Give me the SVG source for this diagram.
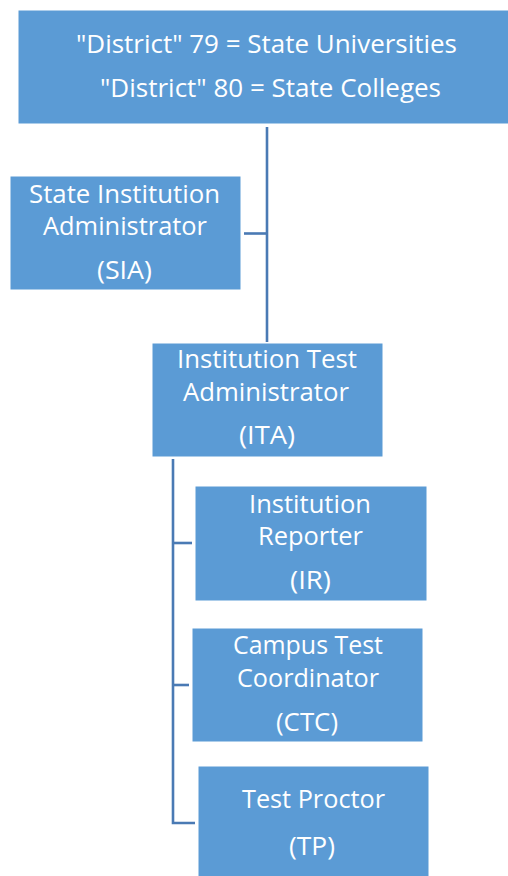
<svg xmlns="http://www.w3.org/2000/svg" width="508" height="876" viewBox="0 0 508 876">
<style>
.box{fill:#5B9BD5;stroke:#ffffff;stroke-width:1}
.t{font-family:"Open Sans","Liberation Sans",sans-serif;font-size:25px;fill:#ffffff}
.c{fill:none;stroke:#4A7AB4;stroke-width:2.6}
</style>
<rect width="508" height="876" fill="#ffffff"/>
<g id="connectors">
<path class="c" d="M267,127 V342"/>
<path class="c" d="M244,233.5 H267"/>
<path class="c" d="M173,459 V823 H195"/>
<path class="c" d="M173,543 H192"/>
<path class="c" d="M173,685 H189"/>
</g>
<g id="top">
<rect class="box" x="18" y="10" width="492" height="114"/>
<text class="t" x="76" y="53" textLength="381" lengthAdjust="spacingAndGlyphs">"District" 79 = State Universities</text>
<text class="t" x="100" y="97" textLength="341" lengthAdjust="spacingAndGlyphs">"District" 80 = State Colleges</text>
</g>
<g id="sia">
<rect class="box" x="10" y="176" width="231" height="114"/>
<text class="t" x="29" y="203" textLength="191" lengthAdjust="spacingAndGlyphs">State Institution</text>
<text class="t" x="43" y="235" textLength="164" lengthAdjust="spacingAndGlyphs">Administrator</text>
<text class="t" x="97" y="279" textLength="55" lengthAdjust="spacingAndGlyphs">(SIA)</text>
</g>
<g id="ita">
<rect class="box" x="152" y="343" width="231" height="114"/>
<text class="t" x="177" y="368" textLength="180" lengthAdjust="spacingAndGlyphs">Institution Test</text>
<text class="t" x="183" y="401" textLength="166" lengthAdjust="spacingAndGlyphs">Administrator</text>
<text class="t" x="239" y="444" textLength="56" lengthAdjust="spacingAndGlyphs">(ITA)</text>
</g>
<g id="ir">
<rect class="box" x="195" y="486" width="232" height="115"/>
<text class="t" x="249" y="513" textLength="122" lengthAdjust="spacingAndGlyphs">Institution</text>
<text class="t" x="258" y="545" textLength="105" lengthAdjust="spacingAndGlyphs">Reporter</text>
<text class="t" x="290" y="589" textLength="41" lengthAdjust="spacingAndGlyphs">(IR)</text>
</g>
<g id="ctc">
<rect class="box" x="192" y="628" width="231" height="114"/>
<text class="t" x="233" y="654" textLength="150" lengthAdjust="spacingAndGlyphs">Campus Test</text>
<text class="t" x="237" y="687" textLength="142" lengthAdjust="spacingAndGlyphs">Coordinator</text>
<text class="t" x="276" y="731" textLength="62" lengthAdjust="spacingAndGlyphs">(CTC)</text>
</g>
<g id="tp">
<rect class="box" x="198" y="766" width="231" height="114"/>
<text class="t" x="242" y="808" textLength="143" lengthAdjust="spacingAndGlyphs">Test Proctor</text>
<text class="t" x="289" y="855" textLength="46" lengthAdjust="spacingAndGlyphs">(TP)</text>
</g>
</svg>
